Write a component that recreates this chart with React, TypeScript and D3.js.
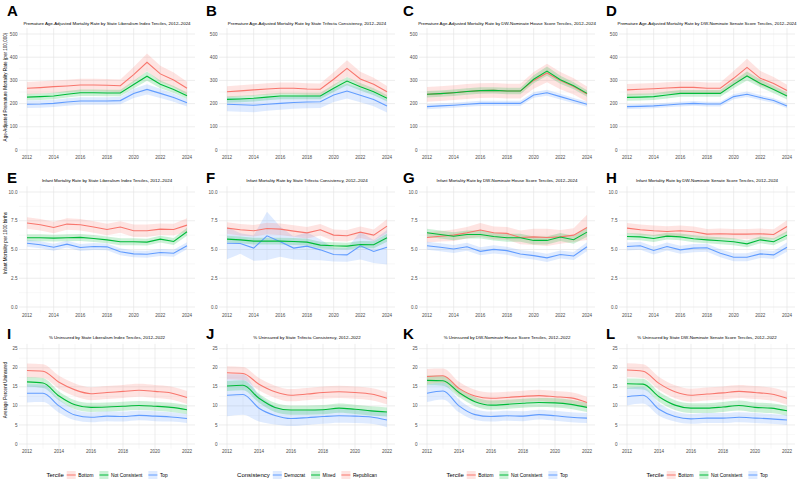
import React, { useEffect, useRef } from 'react';
import * as d3 from 'd3';

// Years on the x axis
const yearsMort = [2012, 2013, 2014, 2015, 2016, 2017, 2018, 2019, 2020, 2021, 2022, 2023, 2024];
const yearsUnins = [2012, 2013, 2014, 2015, 2016, 2017, 2018, 2019, 2020, 2021, 2022];
const mortYearTicks = [2012, 2014, 2016, 2018, 2020, 2022, 2024];
const uninsYearTicks = [2012, 2014, 2016, 2018, 2020, 2022];

// Y tick labels
const premTicks = [0, 100, 200, 300, 400, 500];
const infTicks = [0, 2.5, 5, 7.5, 10];
const uninsTicks = [0, 5, 10, 15, 20, 25];

// Groups
const terciles = ['Bottom', 'Not Consistent', 'Top'];
const trifecta = ['Democrat', 'Mixed', 'Republican'];

// Premature age-adjusted mortality (per 100,000)
const premLibBot = [266, 269, 273, 276, 280, 280, 279, 277, 325, 378, 328, 302, 266];
const premLibBotCi = [27, 27, 27, 27, 27, 27, 27, 27, 33, 38, 35, 32, 28];
const premLibMid = [228, 230, 233, 240, 247, 247, 246, 246, 282, 318, 283, 261, 234];
const premLibMidCi = [14, 14, 14, 14, 14, 14, 14, 14, 17, 20, 17, 15, 14];
const premLibTop = [197, 198, 201, 207, 211, 211, 211, 213, 244, 261, 244, 226, 204];
const premLibTopCi = [16, 16, 16, 16, 16, 16, 16, 16, 20, 22, 20, 18, 16];

const premTriRep = [251, 255, 259, 263, 266, 266, 263, 262, 305, 352, 306, 283, 251];
const premTriRepCi = [24, 24, 24, 25, 25, 25, 25, 25, 30, 35, 31, 28, 25];
const premTriMix = [218, 220, 223, 228, 233, 233, 233, 233, 266, 297, 273, 251, 223];
const premTriMixCi = [14, 14, 14, 14, 14, 14, 14, 14, 16, 18, 16, 15, 14];
const premTriDem = [197, 195, 193, 197, 201, 205, 207, 208, 237, 254, 236, 218, 190];
const premTriDemCi = [30, 30, 30, 28, 28, 27, 27, 27, 30, 32, 30, 29, 28];

const premHouseBot = [240, 243, 247, 252, 256, 257, 254, 254, 300, 332, 299, 274, 241];
const premHouseBotCi = [32, 32, 32, 32, 32, 32, 32, 32, 36, 40, 37, 35, 33];
const premHouseMid = [240, 243, 247, 252, 256, 257, 254, 254, 305, 340, 303, 277, 244];
const premHouseMidCi = [14, 14, 14, 14, 14, 14, 14, 14, 17, 20, 17, 15, 14];
const premHouseTop = [187, 190, 193, 197, 201, 201, 201, 201, 237, 247, 230, 213, 197];
const premHouseTopCi = [11, 11, 11, 11, 11, 11, 11, 11, 12, 13, 12, 11, 11];

const premSenBot = [259, 262, 264, 267, 270, 270, 266, 266, 309, 356, 309, 287, 256];
const premSenBotCi = [25, 25, 25, 25, 25, 25, 25, 25, 31, 37, 32, 28, 25];
const premSenMid = [227, 228, 230, 237, 244, 244, 244, 244, 283, 319, 287, 261, 233];
const premSenMidCi = [15, 15, 15, 15, 15, 15, 15, 15, 17, 19, 17, 16, 15];
const premSenTop = [187, 188, 190, 194, 198, 201, 198, 198, 230, 240, 226, 213, 190];
const premSenTopCi = [10, 10, 10, 10, 10, 10, 10, 10, 11, 12, 11, 10, 10];

// Infant mortality (per 1000 births)
const infLibBot = [7.3, 7.15, 6.92, 7.21, 7.15, 6.95, 6.74, 6.95, 6.63, 6.63, 6.77, 6.74, 7.12];
const infLibBotCi = [0.5, 0.5, 0.5, 0.5, 0.5, 0.5, 0.5, 0.5, 0.55, 0.55, 0.5, 0.5, 0.6];
const infLibMid = [6.02, 6.02, 5.99, 6.02, 6.05, 5.96, 5.84, 5.67, 5.67, 5.64, 5.9, 5.7, 6.54];
const infLibMidCi = [0.3, 0.3, 0.3, 0.3, 0.3, 0.3, 0.3, 0.3, 0.3, 0.3, 0.3, 0.3, 0.35];
const infLibTop = [5.55, 5.41, 5.2, 5.47, 5.17, 5.26, 5.23, 4.8, 4.62, 4.59, 4.74, 4.68, 5.32];
const infLibTopCi = [0.3, 0.3, 0.3, 0.3, 0.3, 0.3, 0.3, 0.3, 0.3, 0.3, 0.3, 0.3, 0.3];

const infTriRep = [6.86, 6.72, 6.63, 6.83, 6.77, 6.6, 6.45, 6.72, 6.25, 6.19, 6.51, 6.25, 7.03];
const infTriRepCi = [0.5, 0.5, 0.5, 0.5, 0.5, 0.5, 0.5, 0.5, 0.5, 0.5, 0.5, 0.5, 0.6];
const infTriMix = [5.9, 5.84, 5.73, 5.73, 5.73, 5.7, 5.64, 5.38, 5.32, 5.29, 5.44, 5.41, 6.02];
const infTriMixCi = [0.3, 0.3, 0.3, 0.3, 0.3, 0.3, 0.3, 0.3, 0.3, 0.3, 0.3, 0.3, 0.35];
const infTriDem = [5.55, 5.52, 5.12, 6.19, 5.67, 5.12, 5.29, 4.97, 4.56, 4.53, 5.32, 4.83, 5.2];
const infTriDemCi = [1.4, 0.9, 1.1, 2.1, 1.3, 1.0, 1.2, 0.9, 0.6, 0.6, 1.2, 1.0, 1.5];

const infHouseBot = [6.05, 6.15, 6.25, 6.45, 6.7, 6.45, 6.4, 6.05, 6.1, 6.05, 6.1, 6.25, 6.92];
const infHouseBotCi = [0.45, 0.45, 0.5, 0.5, 0.6, 0.55, 0.55, 0.6, 0.7, 0.75, 0.6, 0.6, 1.1];
const infHouseMid = [6.45, 6.3, 6.15, 6.3, 6.3, 6.13, 6.02, 6.02, 5.79, 5.79, 6.08, 5.85, 6.51];
const infHouseMidCi = [0.35, 0.35, 0.35, 0.35, 0.35, 0.35, 0.35, 0.35, 0.35, 0.35, 0.35, 0.35, 0.4];
const infHouseTop = [5.33, 5.19, 5.04, 5.24, 4.84, 5.01, 4.9, 4.61, 4.47, 4.27, 4.56, 4.44, 5.24];
const infHouseTopCi = [0.35, 0.35, 0.35, 0.35, 0.35, 0.35, 0.35, 0.35, 0.35, 0.35, 0.35, 0.35, 0.4];

const infSenBot = [6.86, 6.72, 6.63, 6.57, 6.63, 6.54, 6.34, 6.37, 6.34, 6.34, 6.37, 6.31, 7.0];
const infSenBotCi = [0.45, 0.45, 0.45, 0.45, 0.45, 0.45, 0.45, 0.45, 0.45, 0.45, 0.45, 0.45, 0.55];
const infSenMid = [6.13, 6.1, 5.96, 6.16, 6.1, 5.93, 5.84, 5.76, 5.67, 5.49, 5.84, 5.67, 6.25];
const infSenMidCi = [0.3, 0.3, 0.3, 0.3, 0.3, 0.3, 0.3, 0.3, 0.3, 0.3, 0.3, 0.3, 0.35];
const infSenTop = [5.26, 5.32, 4.91, 5.26, 4.97, 5.12, 5.15, 4.68, 4.33, 4.33, 4.62, 4.53, 5.2];
const infSenTopCi = [0.35, 0.35, 0.35, 0.35, 0.35, 0.35, 0.35, 0.35, 0.35, 0.35, 0.35, 0.35, 0.4];

// Percent uninsured
const uninsLibBot = [19.3, 19.1, 16.2, 14.2, 13.2, 13.5, 13.8, 14.1, 13.8, 13.4, 12.2];
const uninsLibBotCi = [1.8, 1.8, 1.7, 1.7, 1.7, 1.7, 1.7, 1.7, 1.7, 1.7, 1.7];
const uninsLibMid = [16.3, 16.0, 12.6, 10.3, 9.6, 9.7, 9.9, 10.1, 9.9, 9.6, 9.0];
const uninsLibMidCi = [1.3, 1.3, 1.2, 1.2, 1.2, 1.2, 1.2, 1.2, 1.2, 1.2, 1.2];
const uninsLibTop = [13.3, 13.3, 10.0, 7.6, 7.0, 7.3, 7.2, 7.5, 7.3, 7.1, 6.7];
const uninsLibTopCi = [2.4, 2.3, 1.8, 1.4, 1.3, 1.3, 1.3, 1.3, 1.3, 1.2, 1.2];

const uninsTriRep = [18.7, 18.5, 15.7, 13.7, 12.8, 13.1, 13.5, 13.7, 13.5, 13.1, 12.0];
const uninsTriRepCi = [1.7, 1.7, 1.6, 1.6, 1.6, 1.6, 1.6, 1.6, 1.6, 1.6, 1.6];
const uninsTriMix = [15.2, 15.4, 12.0, 9.6, 8.9, 8.9, 9.0, 9.4, 9.1, 8.7, 8.4];
const uninsTriMixCi = [1.3, 1.3, 1.2, 1.2, 1.2, 1.2, 1.2, 1.2, 1.2, 1.2, 1.2];
const uninsTriDem = [12.8, 13.0, 9.4, 7.5, 6.7, 6.9, 7.2, 7.4, 7.3, 7.1, 6.3];
const uninsTriDemCi = [5.5, 5.3, 3.5, 2.4, 2.0, 1.9, 1.9, 1.8, 1.8, 1.8, 1.9];

const uninsHouseBot = [17.7, 17.9, 14.6, 12.6, 12.0, 12.2, 12.5, 12.7, 12.4, 12.1, 10.9];
const uninsHouseBotCi = [2.0, 1.9, 1.7, 1.6, 1.5, 1.5, 1.5, 1.5, 1.5, 1.5, 1.5];
const uninsHouseMid = [16.7, 16.6, 13.5, 11.1, 10.2, 10.4, 10.7, 10.9, 10.8, 10.4, 9.6];
const uninsHouseMidCi = [1.3, 1.3, 1.2, 1.2, 1.2, 1.2, 1.2, 1.2, 1.2, 1.2, 1.2];
const uninsHouseTop = [13.3, 13.9, 10.0, 7.7, 7.2, 7.4, 7.3, 7.7, 7.4, 7.0, 6.8];
const uninsHouseTopCi = [2.3, 2.2, 1.7, 1.4, 1.3, 1.3, 1.3, 1.3, 1.3, 1.3, 1.3];

const uninsSenBot = [19.4, 19.1, 15.9, 13.7, 12.8, 13.1, 13.4, 13.8, 13.5, 13.1, 12.0];
const uninsSenBotCi = [1.8, 1.8, 1.7, 1.7, 1.7, 1.7, 1.7, 1.7, 1.7, 1.7, 1.7];
const uninsSenMid = [15.8, 15.7, 12.4, 10.2, 9.4, 9.4, 9.7, 10.1, 9.6, 9.4, 8.7];
const uninsSenMidCi = [1.4, 1.4, 1.3, 1.3, 1.3, 1.3, 1.3, 1.3, 1.3, 1.3, 1.3];
const uninsSenTop = [12.4, 12.8, 9.1, 7.2, 6.6, 6.8, 6.8, 7.0, 6.8, 6.6, 6.3];
const uninsSenTopCi = [2.3, 2.2, 1.7, 1.3, 1.3, 1.3, 1.3, 1.3, 1.3, 1.3, 1.3];

const groupColor = {
  'Bottom': '#F8766D',
  'Not Consistent': '#00BA38',
  'Top': '#619CFF',
  'Democrat': '#619CFF',
  'Mixed': '#00BA38',
  'Republican': '#F8766D',
};

const rows = [
  {
    years: yearsMort, yearTicks: mortYearTicks, ticks: premTicks, minor: [50, 150, 250, 350, 450],
    y0: 150, yMax: 34, fmt: d3.format('d'), smooth: false,
    tagY: 15.5, titleY: 24.6, xLabelY: 159.4,
    yTitle: 'Age-Adjusted Premature Mortality Rate (per 100,000)', yTitleC: 87,
  },
  {
    years: yearsMort, yearTicks: mortYearTicks, ticks: infTicks, minor: [1.25, 3.75, 6.25, 8.75],
    y0: 307, yMax: 192, fmt: d3.format('.1f'), smooth: false,
    tagY: 182.5, titleY: 181.6, xLabelY: 317.4,
    yTitle: 'Infant Mortality per 1000 births', yTitleC: 243,
  },
  {
    years: yearsUnins, yearTicks: uninsYearTicks, ticks: uninsTicks, minor: [2.5, 7.5, 12.5, 17.5, 22.5],
    y0: 444, yMax: 348.7, fmt: d3.format('d'), smooth: true,
    tagY: 339.3, titleY: 338.8, xLabelY: 453.4,
    yTitle: 'Average Percent Uninsured', yTitleC: 390,
  },
];

const tagX = [7, 206, 403, 606];

const panels = [
  { tag: 'A', row: 0, col: 0, title: 'Premature Age-Adjusted Mortality Rate by State Liberalism Index Terciles, 2012–2024',
    groups: terciles, values: [premLibBot, premLibMid, premLibTop], cis: [premLibBotCi, premLibMidCi, premLibTopCi] },
  { tag: 'B', row: 0, col: 1, title: 'Premature Age-Adjusted Mortality Rate by State Trifecta Consistency, 2012–2024',
    groups: trifecta, values: [premTriDem, premTriMix, premTriRep], cis: [premTriDemCi, premTriMixCi, premTriRepCi] },
  { tag: 'C', row: 0, col: 2, title: 'Premature Age-Adjusted Mortality Rate by DW-Nominate House Score Terciles, 2012–2024',
    groups: terciles, values: [premHouseBot, premHouseMid, premHouseTop], cis: [premHouseBotCi, premHouseMidCi, premHouseTopCi] },
  { tag: 'D', row: 0, col: 3, title: 'Premature Age-Adjusted Mortality Rate by DW-Nominate Senate Score Terciles, 2012–2024',
    groups: terciles, values: [premSenBot, premSenMid, premSenTop], cis: [premSenBotCi, premSenMidCi, premSenTopCi] },
  { tag: 'E', row: 1, col: 0, title: 'Infant Mortality Rate by State Liberalism Index Terciles, 2012–2024',
    groups: terciles, values: [infLibBot, infLibMid, infLibTop], cis: [infLibBotCi, infLibMidCi, infLibTopCi] },
  { tag: 'F', row: 1, col: 1, title: 'Infant Mortality Rate by State Trifecta Consistency, 2012–2024',
    groups: trifecta, values: [infTriDem, infTriMix, infTriRep], cis: [infTriDemCi, infTriMixCi, infTriRepCi] },
  { tag: 'G', row: 1, col: 2, title: 'Infant Mortality Rate by DW-Nominate House Score Terciles, 2012–2024',
    groups: terciles, values: [infHouseBot, infHouseMid, infHouseTop], cis: [infHouseBotCi, infHouseMidCi, infHouseTopCi] },
  { tag: 'H', row: 1, col: 3, title: 'Infant Mortality Rate by DW-Nominate Senate Score Terciles, 2012–2024',
    groups: terciles, values: [infSenBot, infSenMid, infSenTop], cis: [infSenBotCi, infSenMidCi, infSenTopCi] },
  { tag: 'I', row: 2, col: 0, title: '% Uninsured by State Liberalism Index Terciles, 2012–2022',
    groups: terciles, values: [uninsLibBot, uninsLibMid, uninsLibTop], cis: [uninsLibBotCi, uninsLibMidCi, uninsLibTopCi] },
  { tag: 'J', row: 2, col: 1, title: '% Uninsured by State Trifecta Consistency, 2012–2022',
    groups: trifecta, values: [uninsTriDem, uninsTriMix, uninsTriRep], cis: [uninsTriDemCi, uninsTriMixCi, uninsTriRepCi] },
  { tag: 'K', row: 2, col: 2, title: '% Uninsured by DW-Nominate House Score Terciles, 2012–2022',
    groups: terciles, values: [uninsHouseBot, uninsHouseMid, uninsHouseTop], cis: [uninsHouseBotCi, uninsHouseMidCi, uninsHouseTopCi] },
  { tag: 'L', row: 2, col: 3, title: '% Uninsured by State DW-Nominate Senate Score Terciles, 2012–2022',
    groups: terciles, values: [uninsSenBot, uninsSenMid, uninsSenTop], cis: [uninsSenBotCi, uninsSenMidCi, uninsSenTopCi] },
];

const FONT = "'Liberation Sans', Arial, Helvetica, sans-serif";

const App = () => {
  const ref = useRef<SVGSVGElement>(null);

  useEffect(() => {
    const svg = d3.select(ref.current);
    svg.selectAll('*').remove();
    svg.append('rect').attr('width', 800).attr('height', 489).attr('fill', 'white');

    panels.forEach(p => {
      const r = rows[p.row];
      const first = r.years[0];
      const last = r.years[r.years.length - 1];
      const xPad = (last - first) * 0.05;
      const left = 19 + 200 * p.col;
      const right = 195 + 200 * p.col;
      const x = d3.scaleLinear().domain([first - xPad, last + xPad]).range([left, right]);
      const yTop = r.ticks[r.ticks.length - 1];
      const y = d3.scaleLinear().domain([0, yTop]).range([r.y0, r.yMax]);
      const yPad = yTop * 0.05;
      const top = y(yTop + yPad);
      const bottom = y(-yPad);

      const g = svg.append('g');

      // minor grid
      const minorYears = d3.range(first + 1, last, 2);
      g.selectAll('.vminor').data(minorYears).enter().append('line')
        .attr('x1', d => x(d)).attr('x2', d => x(d)).attr('y1', top).attr('y2', bottom)
        .attr('stroke', '#f0f0f0').attr('stroke-width', 0.45);
      g.selectAll('.hminor').data(r.minor).enter().append('line')
        .attr('x1', left).attr('x2', right).attr('y1', d => y(d)).attr('y2', d => y(d))
        .attr('stroke', '#f0f0f0').attr('stroke-width', 0.45);
      // major grid
      g.selectAll('.vmajor').data(r.yearTicks).enter().append('line')
        .attr('x1', d => x(d)).attr('x2', d => x(d)).attr('y1', top).attr('y2', bottom)
        .attr('stroke', '#e3e3e3').attr('stroke-width', 0.65);
      g.selectAll('.hmajor').data(r.ticks).enter().append('line')
        .attr('x1', left).attr('x2', right).attr('y1', d => y(d)).attr('y2', d => y(d))
        .attr('stroke', '#e3e3e3').attr('stroke-width', 0.65);

      const curve = r.smooth ? d3.curveMonotoneX : d3.curveLinear;

      // ribbons
      p.groups.forEach((grp, i) => {
        const vals = p.values[i];
        const ci = p.cis[i];
        const area = d3.area<number>()
          .x((d, j) => x(r.years[j]))
          .y0((d, j) => y(d - ci[j]))
          .y1((d, j) => y(d + ci[j]))
          .curve(curve);
        g.append('path').attr('d', area(vals))
          .attr('fill', groupColor[grp]).attr('fill-opacity', 0.2);
      });
      // lines
      p.groups.forEach((grp, i) => {
        const line = d3.line<number>()
          .x((d, j) => x(r.years[j]))
          .y(d => y(d))
          .curve(curve);
        g.append('path').attr('d', line(p.values[i]))
          .attr('fill', 'none').attr('stroke', groupColor[grp]).attr('stroke-width', 1.1);
      });

      // y tick labels
      g.selectAll('.ylab').data(r.ticks).enter().append('text')
        .attr('x', left - 1.5).attr('y', d => y(d) + 1.6)
        .attr('text-anchor', 'end').attr('font-family', FONT).attr('font-size', 4.6)
        .attr('fill', '#4d4d4d').text(d => r.fmt(d));
      // x tick labels
      g.selectAll('.xlab').data(r.yearTicks).enter().append('text')
        .attr('x', d => x(d)).attr('y', r.xLabelY)
        .attr('text-anchor', 'middle').attr('font-family', FONT).attr('font-size', 4.6)
        .attr('fill', '#4d4d4d').text(d => d);

      // title
      g.append('text')
        .attr('x', (left + right) / 2).attr('y', r.titleY)
        .attr('text-anchor', 'middle').attr('font-family', FONT).attr('font-size', 4.4)
        .attr('fill', 'black').text(p.title);

      // tag
      g.append('text')
        .attr('x', tagX[p.col]).attr('y', r.tagY)
        .attr('font-family', FONT).attr('font-size', 15).attr('font-weight', 'bold')
        .attr('fill', 'black').text(p.tag);

      // y axis title
      if (p.col === 0) {
        g.append('text')
          .attr('transform', `translate(6.8,${r.yTitleC}) rotate(-90)`)
          .attr('text-anchor', 'middle').attr('font-family', FONT).attr('font-size', 4.6)
          .attr('fill', 'black').text(r.yTitle);
      }

      // legend under bottom row
      if (p.row === 2) {
        const leg = g.append('g');
        let cx = 0;
        const title = leg.append('text').attr('x', 0).attr('y', 2.1)
          .attr('font-family', FONT).attr('font-size', 6).attr('fill', 'black')
          .text(p.groups === trifecta ? 'Consistency' : 'Tercile');
        cx = (title.node() as SVGTextElement).getComputedTextLength() + 3;
        p.groups.forEach(grp => {
          leg.append('rect').attr('x', cx).attr('y', -4).attr('width', 9).attr('height', 8)
            .attr('fill', groupColor[grp]).attr('fill-opacity', 0.2);
          leg.append('line').attr('x1', cx).attr('x2', cx + 9).attr('y1', 0).attr('y2', 0)
            .attr('stroke', groupColor[grp]).attr('stroke-width', 1);
          cx += 11.5;
          const t = leg.append('text').attr('x', cx).attr('y', 1.7)
            .attr('font-family', FONT).attr('font-size', 4.8).attr('fill', 'black').text(grp);
          cx += (t.node() as SVGTextElement).getComputedTextLength() + 6;
        });
        const w = cx - 6;
        leg.attr('transform', `translate(${(left + right) / 2 - w / 2},475)`);
      }
    });
  }, []);

  return (
    <svg ref={ref} width={800} height={489}
      style={{ position: 'absolute', left: 0, top: 0, display: 'block' }} />
  );
};

export default App;
